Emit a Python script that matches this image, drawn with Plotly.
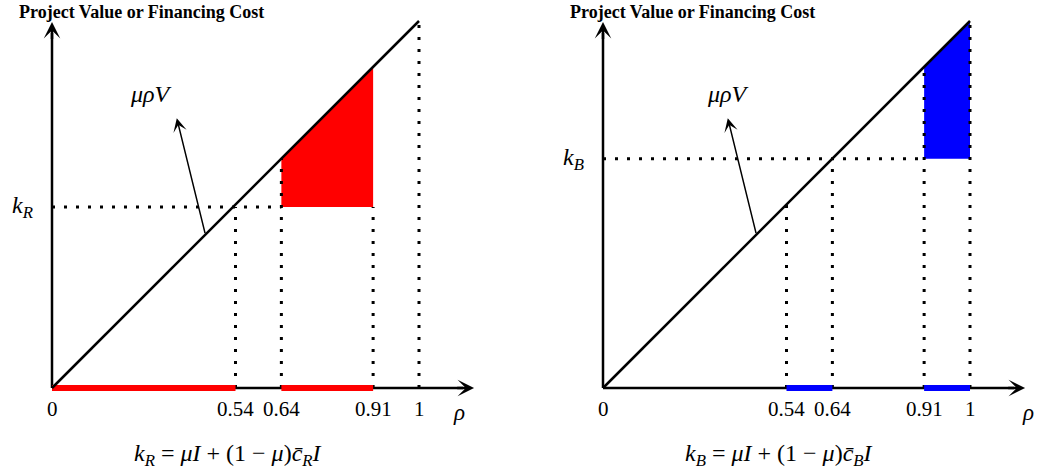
import plotly.graph_objects as go
from plotly.subplots import make_subplots

# rho tick labels and where they sit on the schematic horizontal axis
rho_labels = ["0", "0.54", "0.64", "0.91", "1"]
rho_pos = [0.0, 0.50, 0.625, 0.875, 1.0]
pos = dict(zip(rho_labels, rho_pos))

# financing cost levels (schematic heights on the value axis)
k_R = 0.493
k_B = 0.625

# shaded rho ranges on the horizontal axis
red_spans = [("0", "0.54"), ("0.64", "0.91")]
blue_spans = [("0.54", "0.64"), ("0.91", "1")]

# shaded region above k (between k and the diagonal)
red_fill = ("0.64", "0.91")
blue_fill = ("0.91", "1")

RED = "#ff0000"
BLUE = "#0000ff"
SERIF = "Liberation Serif"

# page geometry (pixels)
W, H = 1045, 470
OY = 388
UNIT = 367
panels = [(52, 0, 522), (603, 522, 1045)]
X_END, Y_END = 1.15, 0.997

fig = make_subplots(rows=1, cols=2)


def line(x, y, col, **style):
    fig.add_trace(go.Scatter(x=x, y=y, mode="lines", line=style,
                             hoverinfo="skip", showlegend=False), row=1, col=col)


def dotted(x, y, col):
    line(x, y, col, color="black", width=3, dash="3px,9px")


def draw_panel(col, color, spans, fill, k, k_name):
    xr = "x" if col == 1 else "x2"
    yr = "y" if col == 1 else "y2"
    a, b = pos[fill[0]], pos[fill[1]]

    # shaded region
    fig.add_trace(go.Scatter(x=[a, b, b, a, a], y=[k, k, b, a, k], mode="lines",
                             fill="toself", fillcolor=color, line=dict(width=0, color=color),
                             hoverinfo="skip", showlegend=False), row=1, col=col)

    # axes
    line([0, X_END - 0.03], [0, 0], col, color="black", width=2.5)
    line([0, 0], [0, Y_END - 0.03], col, color="black", width=2.5)

    # dotted guides
    dotted([0, a], [k, k], col)
    for lab, p in zip(rho_labels[1:], rho_pos[1:]):
        if p == 1.0 or p == a:
            top = p
        else:
            top = min(p, k)
        dotted([p, p], [0, top], col)

    # thick colored spans on the rho axis
    for s0, s1 in spans:
        line([pos[s0], pos[s1]], [0, 0], col, color=color, width=6)

    # diagonal mu*rho*V
    line([0, 1], [0, 1], col, color="black", width=2.5)

    # arrowheads at the axis ends
    for (x, y, ax, ay) in [(X_END, 0, X_END - 0.05, 0), (0, Y_END, 0, Y_END - 0.05)]:
        fig.add_annotation(x=x, y=y, ax=ax, ay=ay, xref=xr, yref=yr, axref=xr, ayref=yr,
                           text="", showarrow=True, arrowhead=3, arrowsize=1.1,
                           arrowwidth=2.5, arrowcolor="black")

    # pointer to the diagonal
    fig.add_annotation(x=0.34, y=0.735, ax=0.418, ay=0.418, xref=xr, yref=yr,
                       axref=xr, ayref=yr, text="", showarrow=True, arrowhead=3,
                       arrowsize=1.5, arrowwidth=1.5, arrowcolor="black")
    fig.add_annotation(x=0.27 if col == 1 else 0.34, y=0.80, xref=xr, yref=yr,
                       text="<i>μρV</i>", showarrow=False,
                       font=dict(family=SERIF, size=24, color="black"))

    # tick labels
    for lab, p in zip(rho_labels, rho_pos):
        fig.add_annotation(x=p, y=-0.058, xref=xr, yref=yr, text=lab, showarrow=False,
                           font=dict(family=SERIF, size=21, color="black"))
    fig.add_annotation(x=1.11 if col == 1 else 1.158, y=-0.066, xref=xr, yref=yr,
                       text="<i>ρ</i>", showarrow=False,
                       font=dict(family=SERIF, size=23, color="black"))

    # k label on the value axis
    fig.add_annotation(x=-0.08, y=k, xref=xr, yref=yr,
                       text=f"<i>k</i><sub><i>{k_name}</i></sub>", showarrow=False,
                       font=dict(family=SERIF, size=24, color="black"))

    # value axis title
    fig.add_annotation(x=0.243, y=1.024, xref=xr, yref=yr,
                       text="<b>Project Value or Financing Cost</b>", showarrow=False,
                       font=dict(family=SERIF, size=18, color="black"))

    # definition of k
    fig.add_annotation(x=0.48, y=-0.183, xref=xr, yref=yr,
                       text=(f"<i>k</i><sub><i>{k_name}</i></sub> = <i>μI</i> + (1 − <i>μ</i>)"
                             f"<i>c̄</i><sub><i>{k_name}</i></sub><i>I</i>"),
                       showarrow=False, font=dict(family=SERIF, size=24, color="black"))


draw_panel(1, RED, red_spans, red_fill, k_R, "R")
draw_panel(2, BLUE, blue_spans, blue_fill, k_B, "B")

yrange = [-(H - OY) / UNIT, OY / UNIT]
for i, (ox, p0, p1) in enumerate(panels, start=1):
    fig.update_xaxes(domain=[p0 / W, p1 / W], range=[(p0 - ox) / UNIT, (p1 - ox) / UNIT],
                     visible=False, row=1, col=i)
    fig.update_yaxes(domain=[0, 1], range=yrange, visible=False, row=1, col=i)

fig.update_layout(width=W, height=H, margin=dict(l=0, r=0, t=0, b=0),
                  plot_bgcolor="white", paper_bgcolor="white", showlegend=False)

# drop the default page margin so the figure fills the window exactly
fig.write_html("out.html", config={"displayModeBar": False},
               post_script="document.body.style.margin='0';")
